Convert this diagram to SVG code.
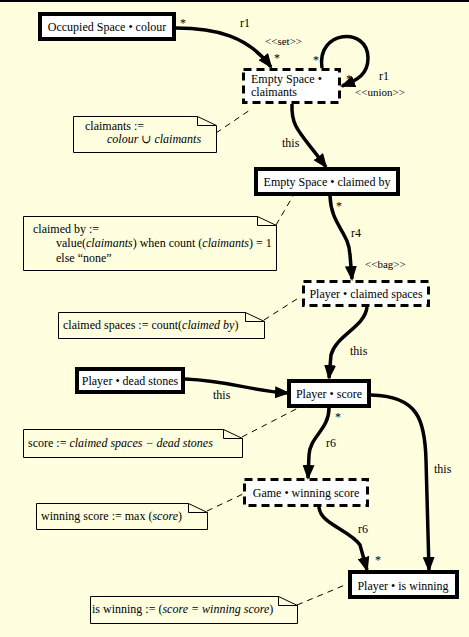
<svg xmlns="http://www.w3.org/2000/svg" width="469" height="637" viewBox="0 0 469 637" font-family="'Liberation Serif', 'DejaVu Serif', serif">
<defs>
<style>
text{font-family:'Liberation Serif','Times New Roman','DejaVu Serif',serif;font-size:12px;fill:#000}
.c{text-anchor:middle}
.sm{font-size:11px}
.it{font-style:italic}
.solid{fill:#fff;stroke:#000;stroke-width:4}
.dash{fill:#fff;stroke:#000;stroke-width:3;stroke-dasharray:8 5}
.note{fill:none;stroke:#000;stroke-width:1}
.link{fill:none;stroke:#000;stroke-width:1;stroke-dasharray:6 5}
.conn{fill:none;stroke:#000;stroke-width:3.5;marker-end:url(#ah)}
</style>
<marker id="ah" markerUnits="userSpaceOnUse" markerWidth="15" markerHeight="12" refX="13" refY="6" orient="auto">
<path d="M0,0 L15,6 L0,12 Z" fill="#000"/>
</marker>
</defs>
<rect x="0" y="0" width="469" height="637" fill="#ffffe0"/>
<rect x="0" y="0" width="469" height="2" fill="#000"/>

<g id="connectors">
<path class="conn" d="M176,28 C215,28 248,36 271,67"/>
<path class="conn" d="M322,68 C316,30 368,26 368,58 C368,74 358,80 342,86"/>
<path class="conn" d="M292,104 C291,128 300,132 326,167"/>
<path class="conn" d="M330,196 C331,225 349,232 350,255 L352,279"/>
<path class="conn" d="M367,307 C365,327 336,335 331,355 L329,378"/>
<path class="conn" d="M185,379 C232,381 250,391 288,393"/>
<path class="conn" d="M329,408 C329,430 310,436 309,455 L308,478"/>
<path class="conn" d="M371,395 C418,396 425,420 426,460 L429,570"/>
<path class="conn" d="M319,507 C320,524 350,530 360,545 L367,570"/>
<path class="link" d="M216,133 L250,110"/>
<path class="link" d="M276,225 L293,196"/>
<path class="link" d="M264,320 L300,297"/>
<path class="link" d="M242,437 L298,408"/>
<path class="link" d="M207,511 L243,494"/>
<path class="link" d="M297,605 L345,585"/>
<text x="180" y="27">*</text>
<text x="240" y="27">r1</text>
<text class="sm" x="265" y="45">&lt;&lt;set&gt;&gt;</text>
<text x="274" y="62">*</text>
<text x="313" y="64">*</text>
<text x="346" y="83">*</text>
<text x="379" y="80">r1</text>
<text class="sm" x="355" y="96">&lt;&lt;union&gt;&gt;</text>
<text x="282" y="147">this</text>
<text x="336" y="210">*</text>
<text x="351" y="237">r4</text>
<text class="sm" x="365" y="268">&lt;&lt;bag&gt;&gt;</text>
<text x="350" y="355">this</text>
<text x="213" y="399">this</text>
<text x="335" y="421">*</text>
<text x="326" y="447">r6</text>
<text x="434" y="473">this</text>
<text x="358" y="533">r6</text>
<text x="375" y="564">*</text>
</g>

<g id="occupied-colour">
<rect class="solid" x="40" y="14" width="134" height="25"/>
<text class="c" x="107" y="31">Occupied Space • colour</text>
</g>
<g id="empty-claimants">
<rect class="dash" x="243.5" y="69.5" width="96" height="33"/>
<text x="251" y="83">Empty Space •</text>
<text x="251" y="96">claimants</text>
</g>
<g id="empty-claimed-by">
<rect class="solid" x="256" y="169" width="142" height="25"/>
<text class="c" x="327" y="186">Empty Space • claimed by</text>
</g>
<g id="player-claimed-spaces">
<rect class="dash" x="303.5" y="281.5" width="125" height="24"/>
<text class="c" x="366" y="298">Player • claimed spaces</text>
</g>
<g id="player-dead-stones">
<rect class="solid" x="77" y="369" width="106" height="23"/>
<text class="c" x="130" y="385">Player • dead stones</text>
</g>
<g id="player-score">
<rect class="solid" x="289" y="381" width="80" height="25"/>
<text class="c" x="329" y="398">Player • score</text>
</g>
<g id="game-winning-score">
<rect class="dash" x="244.5" y="479.5" width="123" height="26"/>
<text class="c" x="306" y="497">Game • winning score</text>
</g>
<g id="player-is-winning">
<rect class="solid" x="350" y="572" width="107" height="25"/>
<text class="c" x="403" y="590">Player • is winning</text>
</g>

<g id="note-claimants">
<path class="note" d="M73.5,116.5 H197.5 L216.5,125.5 V152.5 H73.5 Z M197.5,116.5 V125.5 H216.5"/>
<text x="85" y="130">claimants :=</text>
<text class="it" x="107" y="143">colour ∪ claimants</text>
</g>
<g id="note-claimed-by">
<path class="note" d="M23.5,216.5 H257.5 L276.5,225.5 V270.5 H23.5 Z M257.5,216.5 V225.5 H276.5"/>
<text x="33" y="233">claimed by :=</text>
<text x="56" y="247">value(<tspan class="it">claimants</tspan>) when count (<tspan class="it">claimants</tspan>) = 1</text>
<text x="56" y="262">else “none”</text>
</g>
<g id="note-claimed-spaces">
<path class="note" d="M58.5,312.5 H245.5 L264.5,321.5 V338.5 H58.5 Z M245.5,312.5 V321.5 H264.5"/>
<text x="63" y="329">claimed spaces := count(<tspan class="it">claimed by</tspan>)</text>
</g>
<g id="note-score">
<path class="note" d="M23.5,429.5 H223.5 L242.5,438.5 V457.5 H23.5 Z M223.5,429.5 V438.5 H242.5"/>
<text x="28" y="447">score := <tspan class="it">claimed spaces − dead stones</tspan></text>
</g>
<g id="note-winning-score">
<path class="note" d="M36.5,503.5 H188.5 L207.5,512.5 V529.5 H36.5 Z M188.5,503.5 V512.5 H207.5"/>
<text x="41" y="520">winning score := max (<tspan class="it">score</tspan>)</text>
</g>
<g id="note-is-winning">
<path class="note" d="M90.5,596.5 H278.5 L297.5,605.5 V623.5 H90.5 Z M278.5,596.5 V605.5 H297.5"/>
<text x="92" y="613">is winning := (<tspan class="it">score = winning score</tspan>)</text>
</g>
</svg>
